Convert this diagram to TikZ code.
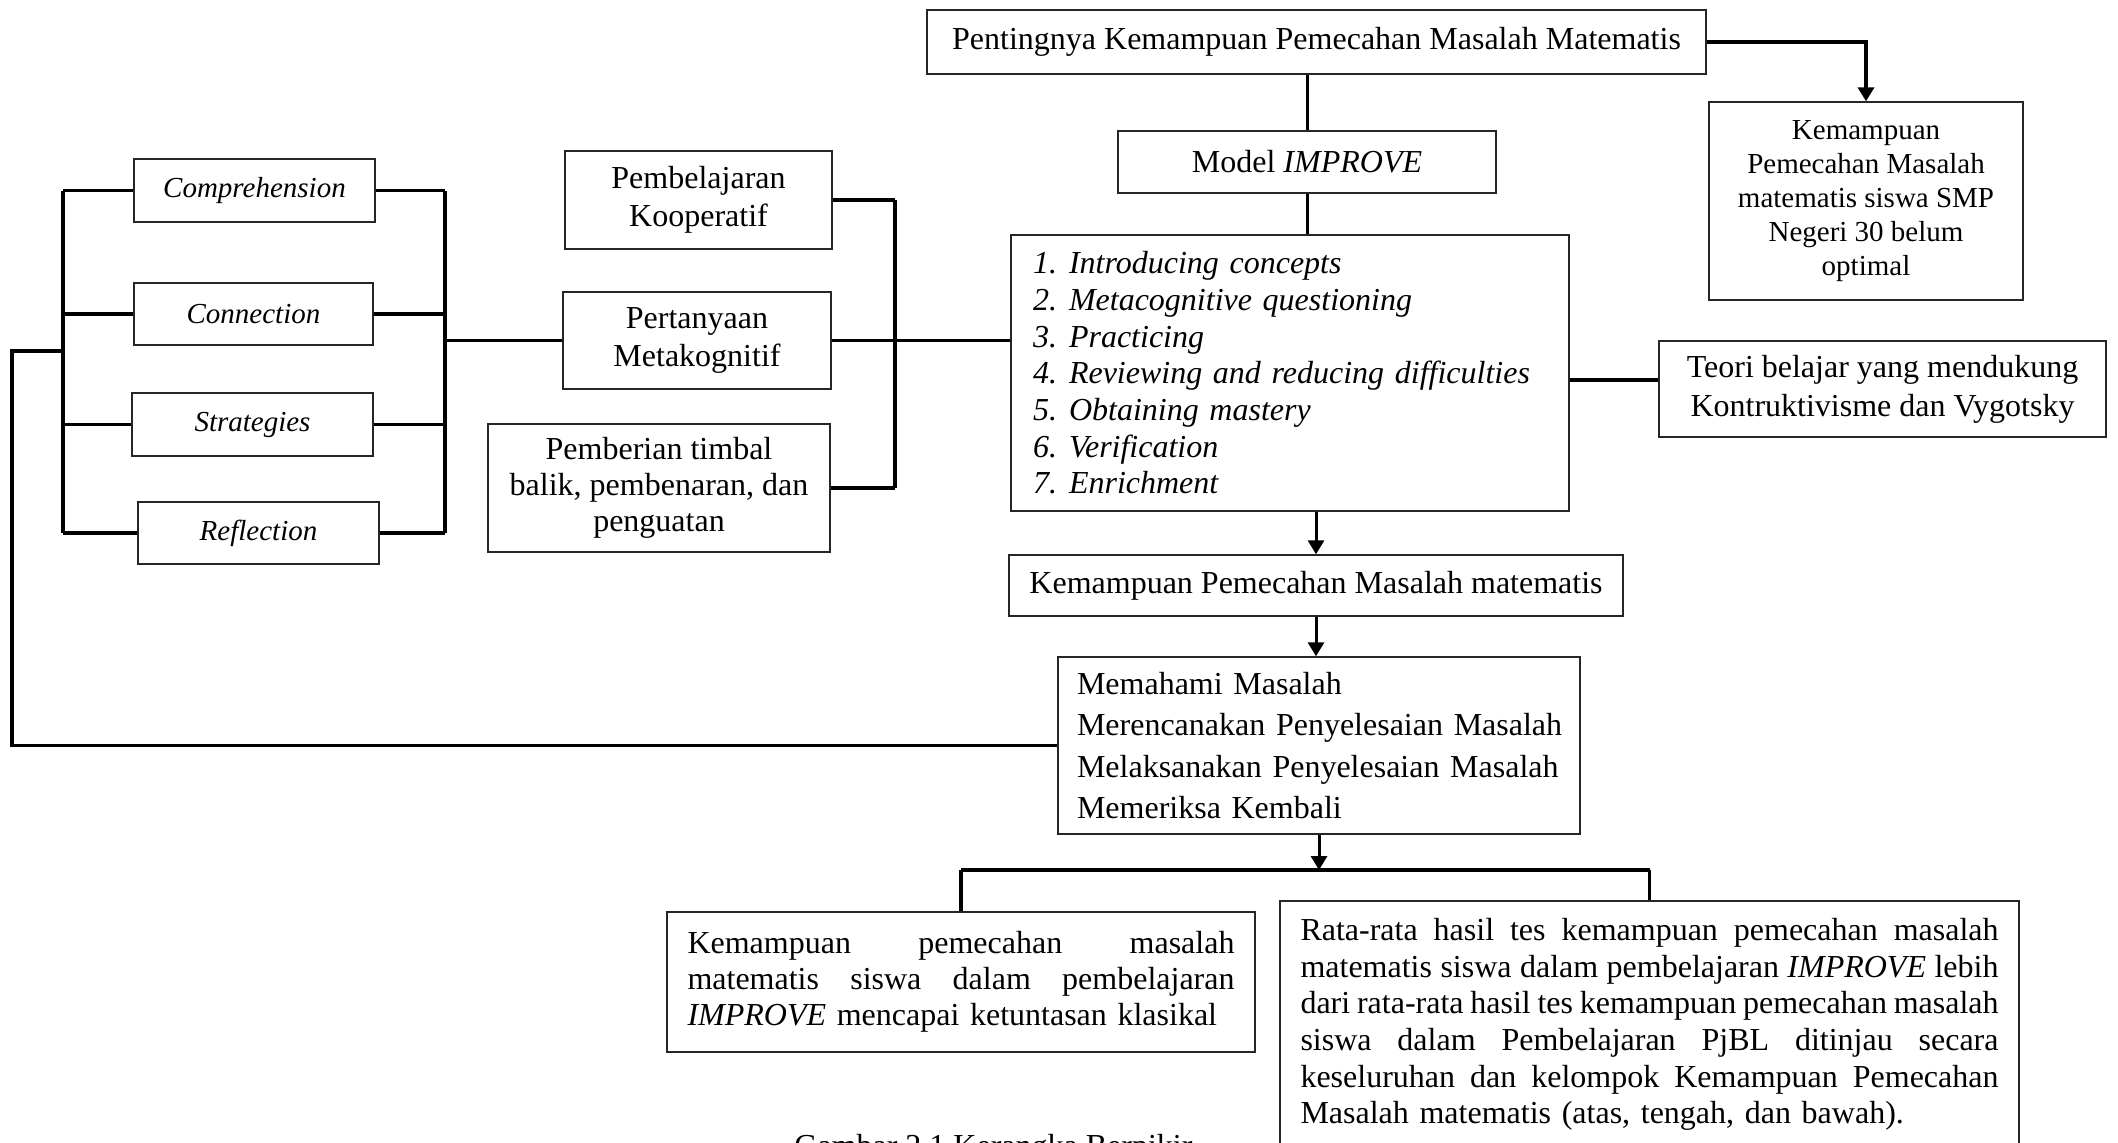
\documentclass[tikz,border=0pt]{standalone}
\usepackage{fontspec}
\setmainfont{Liberation Serif}
\usetikzlibrary{arrows.meta}
\tikzset{
  box/.style={draw=black!85, line width=0.7pt, inner sep=0pt, align=center,
    font=\fontsize{16}{18.4}\selectfont},
  conn/.style={line width=1.9pt},
  thinconn/.style={line width=1.5pt},
  arr/.style={line width=1.5pt, -{Triangle[width=8pt,length=7pt]}},
}
\newcommand{\js}{\hspace{3pt plus 1fill}}
\newcommand{\jline}[2]{\leavevmode\hbox to #1{#2}}
\begin{document}
\begin{tikzpicture}[x=0.5pt,y=-0.5pt]
\useasboundingbox (0,0) rectangle (2118,1142);
\fill[white] (0,0) rectangle (2118,1142);
\clip (0,0) rectangle (2118,1142);

% left column
\node[box, minimum width=120.5pt, minimum height=31.5pt, font=\fontsize{14.5}{17}\selectfont\itshape] (comp) at (254.5,190.5) {Comprehension};
\node[box, minimum width=119.5pt, minimum height=31pt, font=\fontsize{14.5}{17}\selectfont\itshape] (conn) at (253.5,314) {Connection};
\node[box, minimum width=120.5pt, minimum height=31.5pt, font=\fontsize{14.5}{17}\selectfont\itshape] (strat) at (252.5,424.5) {Strategies};
\node[box, minimum width=120.5pt, minimum height=31pt, font=\fontsize{14.5}{17}\selectfont\itshape] (refl) at (258.5,533) {Reflection};

% middle column
\node[box, minimum width=133.5pt, minimum height=49pt, font=\fontsize{16}{19}\selectfont] (pemb) at (698.5,200) {Pembelajaran\\Kooperatif};
\node[box, minimum width=134pt, minimum height=48.5pt, font=\fontsize{16}{19}\selectfont] (pert) at (697,340.5) {Pertanyaan\\Metakognitif};
\node[box, minimum width=171pt, minimum height=64pt, font=\fontsize{16}{18}\selectfont] (pember) at (659,488) {Pemberian timbal\\balik, pembenaran, dan\\penguatan};

% top
\node[box, minimum width=389.5pt, minimum height=32pt] (pent) at (1316.5,42) {Pentingnya Kemampuan Pemecahan Masalah Matematis};
\node[box, minimum width=189pt, minimum height=31pt] (model) at (1307,162) {Model \textit{IMPROVE}};
\node[box, minimum width=157pt, minimum height=99pt, font=\fontsize{14.5}{17}\selectfont] (smp) at (1866,201) {Kemampuan\\Pemecahan Masalah\\matematis siswa SMP\\Negeri 30 belum\\optimal};

% steps
\node[box, minimum height=138pt, text width=257pt, inner xsep=11pt, align=left, font=\fontsize{16}{18.35}\selectfont\itshape] (steps) at (1290,373) {%
\makebox[18pt][l]{1.}Introducing concepts\\
\makebox[18pt][l]{2.}Metacognitive questioning\\
\makebox[18pt][l]{3.}Practicing\\
\makebox[18pt][l]{4.}Reviewing and reducing difficulties\\
\makebox[18pt][l]{5.}Obtaining mastery\\
\makebox[18pt][l]{6.}Verification\\
\makebox[18pt][l]{7.}Enrichment};

\node[box, minimum width=223.5pt, minimum height=48pt, font=\fontsize{16}{19.5}\selectfont] (teori) at (1882.5,389) {Teori belajar yang mendukung\\Kontruktivisme dan Vygotsky};

\node[box, minimum width=307pt, minimum height=30.5pt] (kpm) at (1316,585.5) {Kemampuan Pemecahan Masalah matematis};

\node[box, minimum height=88.5pt, text width=242pt, inner xsep=9.5pt, align=left, font=\fontsize{16}{20.8}\selectfont] (mem) at (1319,745.5) {%
\jline{242pt}{Memahami Masalah\hss}\\
\jline{242pt}{Merencanakan Penyelesaian Masalah\hss}\\
\jline{242pt}{Melaksanakan Penyelesaian Masalah\hss}\\
\jline{242pt}{Memeriksa Kembali\hss}};

% results
\node[box, minimum height=70pt, text width=273.5pt, inner xsep=10.25pt, align=left, font=\fontsize{16}{18}\selectfont] (resL) at (961,982) {%
\jline{273.5pt}{Kemampuan\js pemecahan\js masalah}\\
\jline{273.5pt}{matematis\js siswa\js dalam\js pembelajaran}\\
\textit{IMPROVE} mencapai ketuntasan klasikal};

\node[box, minimum height=123.5pt, text width=349pt, inner xsep=10.25pt, align=left, font=\fontsize{16}{18.3}\selectfont] (resR) at (1649.5,1024.5) {%
\jline{349pt}{Rata-rata\js hasil\js tes\js kemampuan\js pemecahan\js masalah}\\
\jline{349pt}{matematis\js siswa\js dalam\js pembelajaran\js \textit{IMPROVE}\js lebih}\\
\jline{349pt}{dari\js rata-rata\js hasil\js tes\js kemampuan\js pemecahan\js masalah}\\
\jline{349pt}{siswa\js dalam\js Pembelajaran\js PjBL\js ditinjau\js secara}\\
\jline{349pt}{keseluruhan\js dan\js kelompok\js Kemampuan\js Pemecahan}\\
Masalah matematis (atas, tengah, dan bawah).};

\node[anchor=base west, inner sep=0pt, font=\fontsize{16}{18}\selectfont] (cap) at (794,1156) {Gambar 2.1 Kerangka Berpikir};

% left bracket and loop
\coordinate (lb) at (63,351);
\coordinate (lo) at (12,351);
\foreach \n in {comp,conn,strat,refl} {\draw[conn] (\n.west) -- (\n.west -| lb);}
\draw[conn] (comp.west -| lb) -- (refl.west -| lb);
\draw[conn] (lb) -- (lo) |- (mem.west);

% right bracket of left column
\coordinate (rb) at (445,338);
\foreach \n in {comp,conn,strat,refl} {\draw[conn] (\n.east) -- (\n.east -| rb);}
\draw[conn] (comp.east -| rb) -- (refl.east -| rb);
\draw[conn] (rb |- pert.west) -- (pert.west);

% bracket of middle column
\coordinate (pb) at (895,340);
\foreach \n in {pemb,pert,pember} {\draw[conn] (\n.east) -- (\n.east -| pb);}
\draw[conn] (pemb.east -| pb) -- (pember.east -| pb);
\draw[conn] (pb |- pert.east) -- (pert.east -| steps.west);

% top chain
\draw[thinconn] (model.north |- pent.south) -- (model.north);
\draw[thinconn] (model.south) -- (model.south |- steps.north);
\draw[arr, line width=1.9pt] (pent.east) -| (smp.north);

\coordinate (tA) at ([yshift=-3.5pt]steps.east);
\draw[conn] (tA) -- (tA -| teori.west);

\draw[arr] (kpm.north |- steps.south) -- (kpm.north);
\draw[arr] (kpm.south) -- (kpm.south |- mem.north);

% bottom bracket
\coordinate (bb) at (0,870);
\draw[arr] (mem.south) -- (mem.south |- bb);
\draw[conn] (resL.north |- bb) -- (resR.north |- bb);
\draw[conn] (resL.north |- bb) -- (resL.north);
\draw[conn] (resR.north |- bb) -- (resR.north);
\end{tikzpicture}
\end{document}
